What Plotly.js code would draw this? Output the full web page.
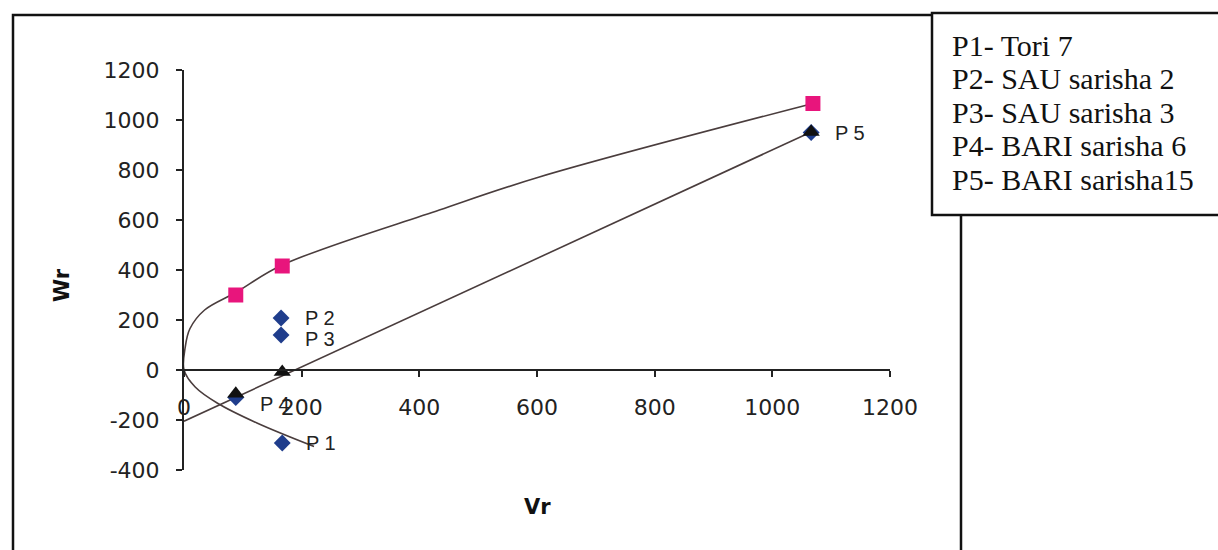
<!DOCTYPE html>
<html>
<head>
<meta charset="utf-8">
<script src="https://cdn.plot.ly/plotly-3.0.1.min.js"></script>
<style>html,body{margin:0;padding:0;background:#fff;}#chart{width:1218px;height:550px;}</style>
</head>
<body>
<div id="chart"></div>
<script>
// ---- data ----
const parentLabels = ['P 1', 'P 2', 'P 3', 'P 4', 'P 5'];
const parentVr = [167, 165, 165, 88, 1066];
const parentWr = [-292, 208, 140, -110, 950];

const limitVr = [88, 167, 1069];
const limitWr = [300, 416, 1066];

const regVr = [88, 167, 1066];
const regWr = [-95, -8, 952];

const regLineVr = [0, 1066];
const regLineWr = [-205, 952];

const curveVr = [221, 124, 57, 19, 0, 2, 10, 35, 88, 167, 434, 604, 1069];
const curveWr = [-306, -212, -133, -68, 0, 90, 165, 240, 310, 420, 640, 772, 1066];

const xTicks = [0, 200, 400, 600, 800, 1000, 1200];
const yTicks = [-400, -200, 0, 200, 400, 600, 800, 1000, 1200];

const legendLines = ['P1- Tori 7', 'P2- SAU sarisha 2', 'P3- SAU sarisha 3', 'P4- BARI sarisha 6', 'P5- BARI sarisha15'];

// ---- layout geometry (pixels) ----
const W = 1218, H = 550;
const L = 184, R = 890, T = 70, B = 470;
const px = x => (x - L) / (R - L);
const py = y => (B - y) / (B - T);

const lineCol = '#4a3d3d';

const traces = [
  {x: curveVr, y: curveWr, mode: 'lines', line: {color: lineCol, width: 1.6, shape: 'spline', smoothing: 1}, hoverinfo: 'skip', cliponaxis: false},
  {x: regLineVr, y: regLineWr, mode: 'lines', line: {color: lineCol, width: 1.6}, hoverinfo: 'skip', cliponaxis: false},
  {x: parentVr, y: parentWr, mode: 'markers', marker: {symbol: 'diamond', size: 13, color: '#1f3d8c'}, cliponaxis: false},
  {x: regVr, y: regWr, mode: 'markers', marker: {symbol: 'triangle-up', size: 15, color: '#111'}, cliponaxis: false},
  {x: limitVr, y: limitWr, mode: 'markers', marker: {symbol: 'square', size: 15, color: '#e8157c'}, cliponaxis: false}
];

const annotations = [];
parentLabels.forEach((t, i) => {
  annotations.push({x: parentVr[i], y: parentWr[i], xref: 'x', yref: 'y', text: t, showarrow: false,
    xanchor: 'left', yanchor: 'middle', xshift: 22, yshift: i === 3 ? -6 : (i === 2 ? -4 : 0),
    font: {family: 'Liberation Sans, Arial, sans-serif', size: 20, color: '#222'}});
});
legendLines.forEach((t, i) => {
  annotations.push({x: px(950), y: py(45 + 33.5 * i), xref: 'paper', yref: 'paper', text: t, showarrow: false,
    xanchor: 'left', yanchor: 'middle',
    font: {family: 'Liberation Serif, Times New Roman, serif', size: 30, color: '#111'}});
});
annotations.push({x: px(537), y: py(507), xref: 'paper', yref: 'paper', text: '<b>Vr</b>', showarrow: false,
  xanchor: 'center', yanchor: 'middle', font: {family: 'DejaVu Sans, sans-serif', size: 21, color: '#111'}});
annotations.push({x: px(62), y: py(285), xref: 'paper', yref: 'paper', text: '<b>Wr</b>', showarrow: false, textangle: -90,
  xanchor: 'center', yanchor: 'middle', font: {family: 'DejaVu Sans, sans-serif', size: 21, color: '#111'}});

const layout = {
  width: W, height: H,
  margin: {l: L, r: W - R, t: T, b: H - B, pad: 0},
  paper_bgcolor: '#fff', plot_bgcolor: 'rgba(0,0,0,0)',
  showlegend: false,
  xaxis: {
    range: [0, 1200], tickvals: xTicks, ticktext: xTicks.map(String),
    showgrid: false, zeroline: false, showline: true, linecolor: '#222', linewidth: 2,
    ticks: 'outside', ticklen: 6, tickwidth: 2, tickcolor: '#222',
    anchor: 'free', position: 400 / 1600, ticklabelstandoff: 12,
    tickfont: {family: 'DejaVu Sans, sans-serif', size: 22, color: '#222'}, fixedrange: true
  },
  yaxis: {
    range: [-400, 1200], tickvals: yTicks, ticktext: yTicks.map(String),
    showgrid: false, zeroline: false, showline: true, linecolor: '#222', linewidth: 2,
    ticks: 'outside', ticklen: 6, tickwidth: 2, tickcolor: '#222', ticklabelstandoff: 12,
    tickfont: {family: 'DejaVu Sans, sans-serif', size: 22, color: '#222'}, fixedrange: true
  },
  shapes: [
    {type: 'rect', xref: 'paper', yref: 'paper', x0: px(13), x1: px(961), y0: py(562), y1: py(15),
      line: {color: '#111', width: 2.5}, fillcolor: 'rgba(0,0,0,0)', layer: 'below'},
    {type: 'rect', xref: 'paper', yref: 'paper', x0: px(932), x1: px(1226), y0: py(215), y1: py(13),
      line: {color: '#111', width: 2.5}, fillcolor: '#fff', layer: 'above'}
  ],
  annotations: annotations
};

Plotly.newPlot('chart', traces, layout, {displayModeBar: false, staticPlot: true});
</script>
</body>
</html>
